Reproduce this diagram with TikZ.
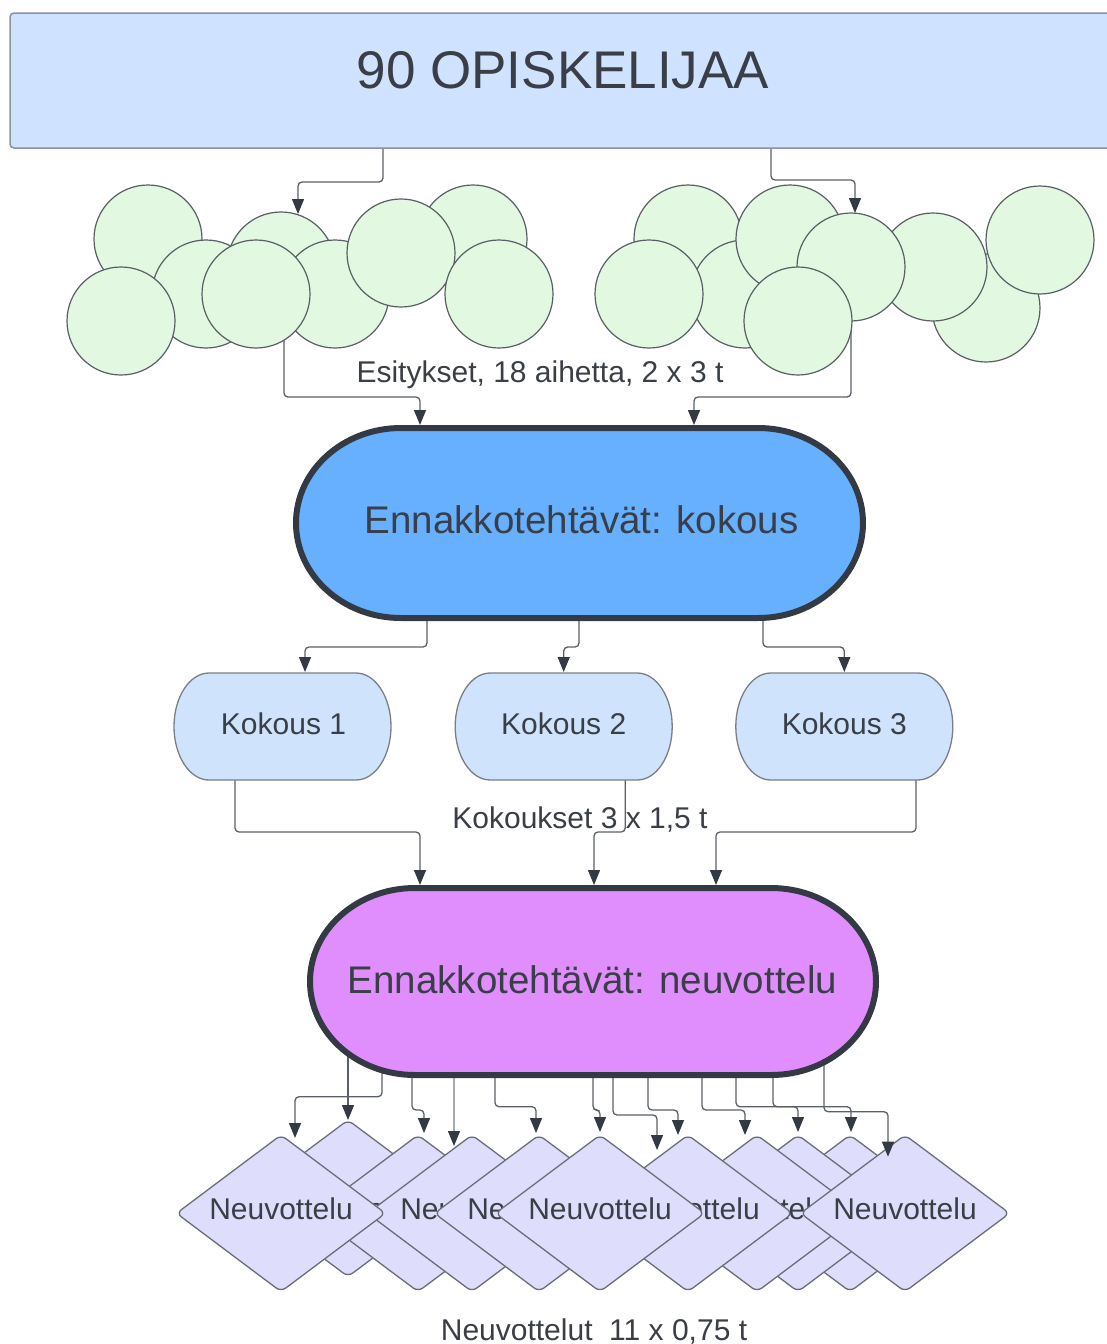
\documentclass[tikz,border=0pt]{standalone}
\usepackage{fontspec}
\setmainfont{Liberation Sans}
\usetikzlibrary{calc,arrows.meta,shapes.geometric}
\pgfdeclarelayer{diam}\pgfdeclarelayer{conn}\pgfdeclarelayer{shp}
\pgfsetlayers{diam,conn,shp,main}
\definecolor{topfill}{HTML}{CFE2FF}
\definecolor{topline}{HTML}{8C939C}
\definecolor{cfill}{HTML}{E2F8E1}
\definecolor{cline}{HTML}{5A5F66}
\definecolor{pafill}{HTML}{66B0FF}
\definecolor{pbfill}{HTML}{E08DFD}
\definecolor{pline}{HTML}{333A44}
\definecolor{kfill}{HTML}{CFE3FD}
\definecolor{kline}{HTML}{7A7F87}
\definecolor{dfill}{HTML}{DEDEFC}
\definecolor{dline}{HTML}{6B6E78}
\definecolor{lcol}{HTML}{5B6068}
\definecolor{lightl}{HTML}{A6ABB0}
\definecolor{acol}{HTML}{333A44}
\definecolor{txt}{HTML}{3A3F47}
\newcommand\stadiumpath[3]{($(#1.north west)+(#2,0)$) -- ($(#1.north east)+(-#2,0)$) arc[start angle=90,end angle=-90,x radius=#2pt,y radius=#3pt] -- ($(#1.south west)+(#2,0)$) arc[start angle=270,end angle=90,x radius=#2pt,y radius=#3pt] -- cycle}
\tikzset{
  helper/.style={draw=none,inner sep=0,outer sep=0},
  circ/.style={circle,draw=cline,fill=cfill,line width=1.2pt,minimum size=108,inner sep=0,outer sep=0},
  pillshape/.style={draw=pline,line width=6pt},
  kokshape/.style={draw=kline,fill=kfill,line width=1.3pt},
  dmd/.style={diamond,aspect=1.335,draw=dline,fill=dfill,line width=1.3pt,rounded corners=6pt,
    minimum width=209,minimum height=156.6,inner sep=0,outer sep=0,
    text=txt,font=\fontsize{30}{36}\selectfont,text height=21.5pt,text depth=10pt},
  conn/.style={draw=lcol,line width=1.3pt,rounded corners=4pt,-{Triangle[length=15pt,width=12pt,color=acol]}},
  lbl/.style={anchor=base,inner sep=0,text=txt,font=\fontsize{30}{36}\selectfont},
  biglbl/.style={anchor=base,inner sep=0,text=txt,font=\fontsize{38.5}{46}\selectfont},
}
\begin{document}
\begin{tikzpicture}[x=1pt,y=-1pt]
\begin{pgfonlayer}{diam}
\fill[white] (0,0) rectangle (1107,1344);
\end{pgfonlayer}
\useasboundingbox (0,0) rectangle (1107,1344);

% helper nodes for custom shapes
\node[helper,minimum width=567,minimum height=190] (p1) at (579.5,523) {};
\node[helper,minimum width=566,minimum height=187] (p2) at (593,981.5) {};
\node[helper,minimum width=217,minimum height=107] (k1) at (282.5,726.5) {};
\node[helper,minimum width=217,minimum height=107] (k2) at (563.7,726.5) {};
\node[helper,minimum width=217,minimum height=107] (k3) at (844.3,726.5) {};

\begin{pgfonlayer}{shp}
\node[draw=topline,fill=topfill,line width=1.5pt,rounded corners=4pt,anchor=north west,
  minimum width=1110,minimum height=135,inner sep=0,outer sep=0] (topbox) at (10,13) {};
% left cluster
\node[circ] (c1) at (148,239) {};
\node[circ] (c8) at (473,239) {};
\node[circ] (c3) at (281,266) {};
\node[circ] (c2) at (206,294) {};
\node[circ] (c6) at (335,294) {};
\node[circ] (c4) at (121,321) {};
\node[circ] (c5) at (256,294) {};
\node[circ] (c7) at (401,253) {};
\node[circ] (c9) at (499,294) {};
% right cluster
\node[circ] (r1) at (688,239) {};
\node[circ] (r2) at (745,294) {};
\node[circ] (r3) at (790,239) {};
\node[circ] (r8) at (986,308) {};
\node[circ] (r7) at (933,267) {};
\node[circ] (r5) at (851,267) {};
\node[circ] (r4) at (649,294) {};
\node[circ] (r6) at (798,321) {};
\node[circ] (r9) at (1040,240) {};
% pills and meeting boxes
\draw[pillshape,fill=pafill] \stadiumpath{p1}{105}{95};
\draw[pillshape,fill=pbfill] \stadiumpath{p2}{105}{93.5};
\draw[kokshape] \stadiumpath{k1}{35}{53.5};
\draw[kokshape] \stadiumpath{k2}{35}{53.5};
\draw[kokshape] \stadiumpath{k3}{35}{53.5};
\end{pgfonlayer}

\begin{pgfonlayer}{diam}
\node[dmd] (D2) at (348,1198.3) {Neuvottelu};
\node[dmd] (D3) at (418,1213.3) {Neuvottelu};
\node[dmd] (D4) at (472,1213.3) {Neuvottelu};
\node[dmd] (D5) at (539,1213.3) {Neuvottelu};
\node[dmd] (D10) at (850,1213.3) {Neuvottelu};
\node[dmd] (D9) at (798,1213.3) {Neuvottelu};
\node[dmd] (D8) at (757,1213.3) {Neuvottelu};
\node[dmd] (D7) at (688,1213.3) {Neuvottelu};
\node[dmd] (D6) at (600,1213.3) {Neuvottelu};
\node[dmd] (D11) at (905,1213.3) {Neuvottelu};
\node[dmd] (D1) at (281,1213.3) {Neuvottelu};
\end{pgfonlayer}

\begin{pgfonlayer}{conn}
% top box to circles
\draw[conn] ($(topbox.south)+(-182,-5)$) -- ++(0,39) -| ($(c3.center)+(17,-52)$);
\draw[conn] ($(topbox.south)+(206,-5)$) -- ++(0,37) -| ($(r5.center)+(4,-54)$);
% circles to pill 1
\draw[conn] ($(c5.center)+(28,0)$) |- ($(p1.north)+(-159.5,-31)$) -- ($(p1.north)+(-159.5,-3)$);
\draw[conn] ($(r6.center)+(53,-20)$) |- ($(p1.north)+(114.5,-31)$) -- ($(p1.north)+(114.5,-3)$);
% pill 1 to meetings
\draw[conn] ($(p1.south)+(-152.5,-10)$) |- ($(k1.north)+(22.5,-26)$) -- ($(k1.north)+(22.5,-1)$);
\draw[conn] ($(p1.south)+(-0.5,-10)$) |- ($(k2.north)+(0,-26)$) -- ($(k2.north)+(0,-1)$);
\draw[conn] ($(p1.south)+(183.5,-10)$) |- ($(k3.north)+(0,-26)$) -- ($(k3.north)+(0,-1)$);
% meetings to pill 2
\draw[conn] ($(k1.south)+(-47.5,-10)$) |- ($(p2.north)+(-173,-56)$) -- ($(p2.north)+(-173,-3)$);
\draw[conn] ($(k2.south)+(61.5,-10)$) |- ($(p2.north)+(1,-56)$) -- ($(p2.north)+(1,-3)$);
\draw[conn] ($(k3.south)+(71.7,-10)$) |- ($(p2.north)+(123,-56)$) -- ($(p2.north)+(123,-3)$);
% pill 2 to negotiations
\draw[conn] ($(p2.center)+(-211,0)$) |- ($(D1.center)+(14,-116.6)$) -- ($(D1.center)+(14,-75.3)$);
\draw[conn] (p2.center -| D2.north) -- (D2.north);
\draw[conn] ($(p2.center)+(-181,0)$) |- ($(D3.center)+(6,-103.3)$) -- ($(D3.center)+(6,-80.3)$);
\draw[conn,draw=lightl] ($(p2.center)+(-139,0)$) -- ($(D4.center)+(-18,-67.3)$);
\draw[conn] ($(p2.center)+(-98,0)$) |- ($(D5.center)+(-3,-106.6)$) -- ($(D5.center)+(-3,-80.3)$);
\draw[conn] ($(p2.center)+(0,0)$) |- ($(D6.center)+(0,-103.3)$) -- ($(D6.center)+(0,-81.3)$);
\draw[conn] ($(p2.center)+(20,0)$) |- ($(D7.center)+(-31,-98.3)$) -- ($(D7.center)+(-31,-63.3)$);
\draw[conn] ($(p2.center)+(55,0)$) |- ($(D7.center)+(-10,-103.3)$) -- ($(D7.center)+(-10,-78.3)$);
\draw[conn] ($(p2.center)+(109,0)$) |- ($(D8.center)+(-12,-103.3)$) -- ($(D8.center)+(-12,-78.3)$);
\draw[conn] ($(p2.center)+(143,0)$) |- ($(D9.center)+(0,-106.6)$) -- ($(D9.center)+(0,-81.3)$);
\draw[conn] ($(p2.center)+(180,0)$) |- ($(D10.center)+(1,-106.6)$) -- ($(D10.center)+(1,-81.3)$);
\draw[conn] ($(p2.center)+(231,0)$) |- ($(D11.center)+(-17,-101.6)$) -- ($(D11.center)+(-17,-56.6)$);
\end{pgfonlayer}

% texts
\node[anchor=base,inner sep=0,text=txt,font=\fontsize{53}{60}\selectfont] (toptext) at (563,88) {90 OPISKELIJAA};
\node[lbl] (esit) at (540,382) {Esitykset, 18 aihetta, 2 x 3 t};
\node[biglbl] (p1t) at (581.7,533) {Ennakkotehtävät: kokous};
\node[lbl] (k1t) at (283.5,734) {Kokous 1};
\node[lbl] (k2t) at (563.7,734) {Kokous 2};
\node[lbl] (k3t) at (844.3,734) {Kokous 3};
\node[lbl] (kokt) at (580,828) {Kokoukset 3 x 1,5 t};
\node[biglbl] (p2t) at (592.5,993.3) {Ennakkotehtävät: neuvottelu};
\node[lbl] (neut) at (594,1340) {Neuvottelut\ \ 11 x 0,75 t};
\end{tikzpicture}
\end{document}
